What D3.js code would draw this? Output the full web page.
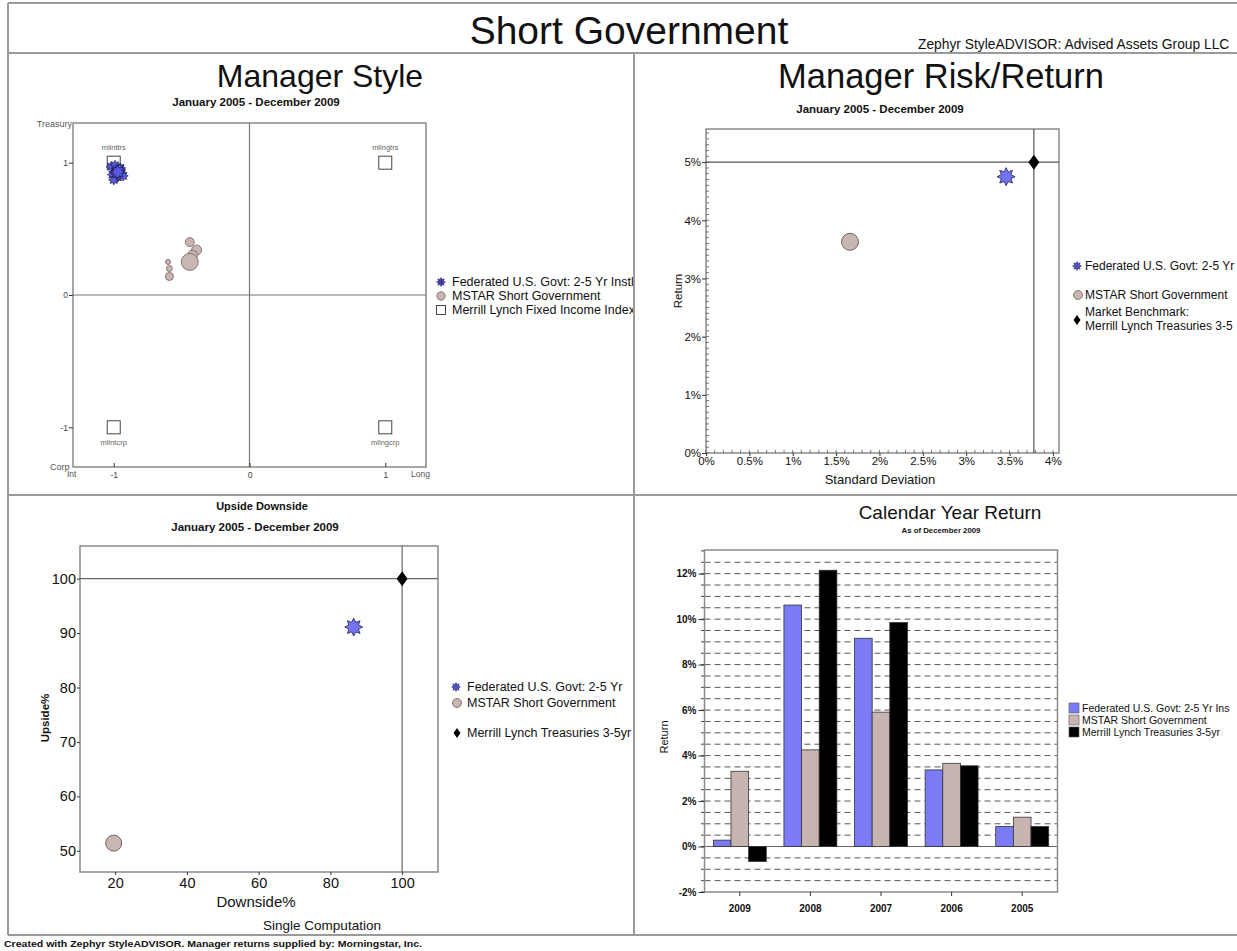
<!DOCTYPE html>
<html><head><meta charset="utf-8">
<script src="https://cdn.jsdelivr.net/npm/d3@7"></script>
<style>
body{margin:0;background:#fff;}
svg{display:block;font-family:"Liberation Sans",Arial,sans-serif;}
</style>
</head><body>
<svg id="c" width="1237" height="951"></svg>
<script>
// ---------------- DATA ----------------
const seriesNames = ["Federated U.S. Govt: 2-5 Yr Instl", "MSTAR Short Government", "Merrill Lynch Treasuries 3-5yr"];
// Manager Style (rolling windows)
const styleFedX = [-1.02, -0.99, -0.95, -0.98, -0.94, -1.01, -0.97, -0.93, -1.00, -0.96, -0.98, -0.97];
const styleFedY = [0.97, 0.98, 0.96, 0.94, 0.92, 0.91, 0.89, 0.90, 0.87, 0.95, 0.92, 0.93];
const styleFedR = [5, 5, 5, 5, 5, 5, 5, 5, 5, 6, 6, 7];
const styleMstarX = [-0.60, -0.59, -0.59, -0.44, -0.39, -0.42, -0.44];
const styleMstarY = [0.25, 0.20, 0.14, 0.40, 0.34, 0.30, 0.25];
const styleMstarR = [2.5, 3, 4, 4.5, 5, 5, 8.5];
const styleIndexNames = ["mlinttrs", "mllngtrs", "mlintcrp", "mllngcrp"];
const styleIndexX = [-1, 1, -1, 1];
const styleIndexY = [1, 1, -1, -1];
const styleTicks = [-1, 0, 1];
const styleLegend = ["Federated U.S. Govt: 2-5 Yr Instl", "MSTAR Short Government", "Merrill Lynch Fixed Income Indexes"];
// Risk / Return
const rrStdDev = [3.46, 1.66, 3.78];
const rrReturn = [4.75, 3.63, 5.00];
const rrXTicks = [0, 0.5, 1, 1.5, 2, 2.5, 3, 3.5, 4];
const rrYTicks = [0, 1, 2, 3, 4, 5];
const rrLegend = ["Federated U.S. Govt: 2-5 Yr", "MSTAR Short Government", "Market Benchmark:", "Merrill Lynch Treasuries 3-5"];
// Upside / Downside
const udDownside = [86.5, 19.6, 100];
const udUpside = [91.1, 51.4, 100];
const udXTicks = [20, 40, 60, 80, 100];
const udYTicks = [50, 60, 70, 80, 90, 100];
const udLegend = ["Federated U.S. Govt: 2-5 Yr", "MSTAR Short Government", "Merrill Lynch Treasuries 3-5yr"];
// Calendar Year Return
const calYears = ["2009", "2008", "2007", "2006", "2005"];
const calFed = [0.28, 10.62, 9.16, 3.37, 0.88];
const calMstar = [3.31, 4.25, 5.91, 3.66, 1.29];
const calML = [-0.66, 12.15, 9.85, 3.55, 0.88];
const calYTicks = [-2, 0, 2, 4, 6, 8, 10, 12];
const calLegend = ["Federated U.S. Govt: 2-5 Yr Ins", "MSTAR Short Government", "Merrill Lynch Treasuries 3-5yr"];

// ---------------- HELPERS ----------------
const svg = d3.select("#c");
const FED_FILL = "#7474f2", FED_STROKE = "#22225a";
const MST_FILL = "#c9b5b2", MST_STROKE = "#6e6262";
const FRAME = "#9a9a9a";

function starPath(r) {
  const pts = [], n = 8, inner = r * 0.58;
  for (let i = 0; i < 2 * n; i++) {
    const a = Math.PI * i / n - Math.PI / 2;
    const rr = i % 2 ? inner : r;
    pts.push([(rr * Math.cos(a)).toFixed(2), (rr * Math.sin(a)).toFixed(2)]);
  }
  return "M" + pts.map(p => p.join(",")).join("L") + "Z";
}
function diamondPath(h, w) { return `M0,${-h}L${w},0L0,${h}L${-w},0Z`; }
function txt(g, x, y, s, opt = {}) {
  const t = g.append("text").attr("x", x).attr("y", y).text(s)
    .attr("font-size", opt.size || 11).attr("fill", opt.fill || "#111")
    .attr("text-anchor", opt.anchor || "start");
  if (opt.weight) t.attr("font-weight", opt.weight);
  if (opt.len) t.attr("textLength", opt.len).attr("lengthAdjust", "spacingAndGlyphs");
  if (opt.rotate) t.attr("transform", `rotate(${opt.rotate},${x},${y})`);
  return t;
}
function styleAxis(g, size, weight) {
  g.select(".domain").remove();
  g.selectAll(".tick line").attr("stroke", "#333");
  g.selectAll(".tick text").attr("font-size", size).attr("fill", "#111")
    .attr("font-family", '"Liberation Sans",Arial,sans-serif');
  if (weight) g.selectAll(".tick text").attr("font-weight", weight);
}

// clip paths for panels
const defs = svg.append("defs");
const panels = {
  tl: [9, 54, 624, 440], tr: [635, 54, 602, 440],
  bl: [9, 496, 624, 438], br: [635, 496, 602, 438]
};
Object.entries(panels).forEach(([k, r]) => {
  defs.append("clipPath").attr("id", "clip-" + k).append("rect")
    .attr("x", r[0]).attr("y", r[1]).attr("width", r[2]).attr("height", r[3]);
});

// ---------------- FRAME ----------------
const fr = svg.append("g").attr("stroke", FRAME).attr("stroke-width", 2);
fr.append("line").attr("x1", 8).attr("y1", 3).attr("x2", 1237).attr("y2", 3);
fr.append("line").attr("x1", 8).attr("y1", 3).attr("x2", 8).attr("y2", 935);
fr.append("line").attr("x1", 8).attr("y1", 53).attr("x2", 1237).attr("y2", 53);
fr.append("line").attr("x1", 8).attr("y1", 495).attr("x2", 1237).attr("y2", 495);
fr.append("line").attr("x1", 634).attr("y1", 53).attr("x2", 634).attr("y2", 935);
fr.append("line").attr("x1", 8).attr("y1", 935).attr("x2", 1237).attr("y2", 935);

// header
txt(svg, 629, 44, "Short Government", { size: 39, anchor: "middle" });
txt(svg, 918, 49, "Zephyr StyleADVISOR: Advised Assets Group LLC", { size: 13.8 });
txt(svg, 4, 947, "Created with Zephyr StyleADVISOR. Manager returns supplied by: Morningstar, Inc.", { size: 9, weight: "bold", len: 418 });

// ---------------- MANAGER STYLE ----------------
{
  const g = svg.append("g").attr("clip-path", "url(#clip-tl)");
  txt(g, 320, 87, "Manager Style", { size: 32, anchor: "middle" });
  txt(g, 256, 106, "January 2005 - December 2009", { size: 11.5, anchor: "middle", weight: "bold" });
  const x = d3.scaleLinear().domain([-1.3, 1.3]).range([73, 426]);
  const y = d3.scaleLinear().domain([-1.3, 1.3]).range([467, 123]);
  g.append("rect").attr("x", 73).attr("y", 123).attr("width", 353).attr("height", 344)
    .attr("fill", "none").attr("stroke", "#8a8a8a").attr("stroke-width", 1.5);
  g.append("line").attr("x1", x(0)).attr("x2", x(0)).attr("y1", 123).attr("y2", 467).attr("stroke", "#777").attr("stroke-width", 1.2);
  g.append("line").attr("x1", 73).attr("x2", 426).attr("y1", y(0)).attr("y2", y(0)).attr("stroke", "#777").attr("stroke-width", 1.2);
  const ay = g.append("g").attr("transform", "translate(73,0)").call(d3.axisLeft(y).tickValues(styleTicks).tickSize(4).tickPadding(1).tickFormat(d => String(d)));
  styleAxis(ay, 8.5);
  ay.selectAll(".tick text").attr("fill", "#444");
  const ax = g.append("g").attr("transform", "translate(0,467)").call(d3.axisTop(x).tickValues(styleTicks).tickSize(4).tickFormat(d => String(d)));
  styleAxis(ax, 8.5);
  ax.selectAll(".tick text").attr("y", 11).attr("fill", "#444");
  txt(g, 72, 127, "Treasury", { size: 9, anchor: "end", fill: "#555" });
  txt(g, 50, 470, "Corp", { size: 9, fill: "#555" });
  txt(g, 67, 477, "Int", { size: 8.5, fill: "#555" });
  txt(g, 411, 477, "Long", { size: 8.5, fill: "#555" });
  // index squares
  const idx = styleIndexNames.map((n, i) => ({ n, x: styleIndexX[i], y: styleIndexY[i] }));
  g.selectAll("rect.idx").data(idx).join("rect").attr("class", "idx")
    .attr("x", d => x(d.x) - 6.5).attr("y", d => y(d.y) - 6.5).attr("width", 13).attr("height", 13)
    .attr("fill", "#fff").attr("stroke", "#444").attr("stroke-width", 1);
  g.selectAll("text.idx").data(idx).join("text").attr("class", "idx")
    .attr("x", d => x(d.x)).attr("y", d => d.y > 0 ? y(d.y) - 13 : y(d.y) + 18)
    .attr("text-anchor", "middle").attr("font-size", 7.5).attr("fill", "#666").text(d => d.n);
  // MSTAR circles
  const ms = styleMstarX.map((v, i) => ({ x: v, y: styleMstarY[i], r: styleMstarR[i] }));
  g.selectAll("circle.ms").data(ms).join("circle").attr("class", "ms")
    .attr("cx", d => x(d.x)).attr("cy", d => y(d.y)).attr("r", d => d.r)
    .attr("fill", MST_FILL).attr("stroke", MST_STROKE).attr("stroke-width", 0.8);
  // Fed stars
  const fd = styleFedX.map((v, i) => ({ x: v, y: styleFedY[i], r: styleFedR[i] }));
  g.selectAll("path.fd").data(fd).join("path").attr("class", "fd")
    .attr("transform", d => `translate(${x(d.x)},${y(d.y)})`).attr("d", d => starPath(d.r))
    .attr("fill", "#5a5ae0").attr("stroke", "#1a1a48").attr("stroke-width", 0.7);
  // legend
  const ly = [282, 296, 310];
  g.append("path").attr("transform", `translate(441,${ly[0]})`).attr("d", starPath(4.5)).attr("fill", "#3c3ca8").attr("stroke", "#20205a").attr("stroke-width", 0.5);
  g.append("circle").attr("cx", 441).attr("cy", ly[1]).attr("r", 4.2).attr("fill", MST_FILL).attr("stroke", MST_STROKE).attr("stroke-width", 0.8);
  g.append("rect").attr("x", 436.5).attr("y", ly[2] - 4.5).attr("width", 9).attr("height", 9).attr("fill", "#fff").attr("stroke", "#444");
  styleLegend.forEach((s, i) => txt(g, 452, ly[i] + 4, s, { size: 12.5 }));
}

// ---------------- MANAGER RISK/RETURN ----------------
{
  const g = svg.append("g").attr("clip-path", "url(#clip-tr)");
  txt(g, 941, 88, "Manager Risk/Return", { size: 34.5, anchor: "middle" });
  txt(g, 880, 113, "January 2005 - December 2009", { size: 11.5, anchor: "middle", weight: "bold" });
  const x = d3.scaleLinear().domain([0, 4.07]).range([706, 1059]);
  const y = d3.scaleLinear().domain([0, 5.57]).range([453, 129]);
  g.append("rect").attr("x", 706).attr("y", 129).attr("width", 353).attr("height", 324)
    .attr("fill", "none").attr("stroke", "#8a8a8a").attr("stroke-width", 1.5);
  const minY = d3.range(0, 5.56, 0.1), minX = d3.range(0, 4.06, 0.1);
  g.selectAll("line.my").data(minY).join("line").attr("class", "my")
    .attr("x1", 706).attr("x2", 709).attr("y1", d => y(d)).attr("y2", d => y(d)).attr("stroke", "#555").attr("stroke-width", 0.8);
  g.selectAll("line.mx").data(minX).join("line").attr("class", "mx")
    .attr("y1", 453).attr("y2", 450).attr("x1", d => x(d)).attr("x2", d => x(d)).attr("stroke", "#555").attr("stroke-width", 0.8);
  const ay = g.append("g").attr("transform", "translate(706,0)").call(d3.axisLeft(y).tickValues(rrYTicks).tickSize(4).tickPadding(1).tickFormat(d => d + "%"));
  styleAxis(ay, 11.5);
  const ax = g.append("g").attr("transform", "translate(0,453)").call(d3.axisBottom(x).tickValues(rrXTicks).tickSize(3).tickPadding(1).tickFormat(d => d + "%"));
  styleAxis(ax, 11.5);
  txt(g, 682, 291, "Return", { size: 11.5, anchor: "middle", rotate: -90 });
  txt(g, 880, 484, "Standard Deviation", { size: 13, anchor: "middle" });
  g.append("line").attr("x1", 706).attr("x2", 1059).attr("y1", y(rrReturn[2])).attr("y2", y(rrReturn[2])).attr("stroke", "#555").attr("stroke-width", 1.2);
  g.append("line").attr("x1", x(rrStdDev[2])).attr("x2", x(rrStdDev[2])).attr("y1", 129).attr("y2", 453).attr("stroke", "#555").attr("stroke-width", 1.2);
  g.append("circle").attr("cx", x(rrStdDev[1])).attr("cy", y(rrReturn[1])).attr("r", 8.5)
    .attr("fill", MST_FILL).attr("stroke", MST_STROKE).attr("stroke-width", 1);
  g.append("path").attr("transform", `translate(${x(rrStdDev[0])},${y(rrReturn[0])})`).attr("d", starPath(9))
    .attr("fill", FED_FILL).attr("stroke", FED_STROKE).attr("stroke-width", 0.8);
  g.append("path").attr("transform", `translate(${x(rrStdDev[2])},${y(rrReturn[2])})`).attr("d", diamondPath(7.5, 5.5)).attr("fill", "#000");
  // legend
  g.append("path").attr("transform", "translate(1077,266)").attr("d", starPath(4.5)).attr("fill", "#5050c8").attr("stroke", "#22225a").attr("stroke-width", 0.5);
  txt(g, 1085, 270, rrLegend[0], { size: 12 });
  g.append("circle").attr("cx", 1078).attr("cy", 295).attr("r", 4.5).attr("fill", MST_FILL).attr("stroke", MST_STROKE).attr("stroke-width", 0.8);
  txt(g, 1085, 299, rrLegend[1], { size: 12 });
  g.append("path").attr("transform", "translate(1077,320)").attr("d", diamondPath(5, 3.5)).attr("fill", "#000");
  txt(g, 1085, 316, rrLegend[2], { size: 12 });
  txt(g, 1085, 330, rrLegend[3], { size: 12 });
}

// ---------------- UPSIDE DOWNSIDE ----------------
{
  const g = svg.append("g").attr("clip-path", "url(#clip-bl)");
  txt(g, 262, 510, "Upside Downside", { size: 11, anchor: "middle", weight: "bold" });
  txt(g, 255, 531, "January 2005 - December 2009", { size: 11.5, anchor: "middle", weight: "bold" });
  const x = d3.scaleLinear().domain([10.2, 110]).range([80, 438]);
  const y = d3.scaleLinear().domain([46.1, 106]).range([872, 546]);
  g.append("rect").attr("x", 80).attr("y", 546).attr("width", 358).attr("height", 326)
    .attr("fill", "none").attr("stroke", "#8a8a8a").attr("stroke-width", 1.5);
  const ay = g.append("g").attr("transform", "translate(80,0)").call(d3.axisLeft(y).tickValues(udYTicks).tickSize(3).tickPadding(1));
  styleAxis(ay, 14.5);
  const ax = g.append("g").attr("transform", "translate(0,872)").call(d3.axisBottom(x).tickValues(udXTicks).tickSize(3).tickPadding(3));
  styleAxis(ax, 14.5);
  txt(g, 49, 718, "Upside%", { size: 11.5, anchor: "middle", rotate: -90, weight: "bold" });
  txt(g, 256, 907, "Downside%", { size: 15, anchor: "middle" });
  txt(g, 322, 930, "Single Computation", { size: 13.5, anchor: "middle" });
  g.append("line").attr("x1", 80).attr("x2", 438).attr("y1", y(udUpside[2])).attr("y2", y(udUpside[2])).attr("stroke", "#666").attr("stroke-width", 1.2);
  g.append("line").attr("x1", x(udDownside[2])).attr("x2", x(udDownside[2])).attr("y1", 546).attr("y2", 872).attr("stroke", "#666").attr("stroke-width", 1.2);
  g.append("circle").attr("cx", x(udDownside[1])).attr("cy", y(udUpside[1])).attr("r", 8)
    .attr("fill", MST_FILL).attr("stroke", MST_STROKE).attr("stroke-width", 1);
  g.append("path").attr("transform", `translate(${x(udDownside[0])},${y(udUpside[0])})`).attr("d", starPath(9))
    .attr("fill", FED_FILL).attr("stroke", FED_STROKE).attr("stroke-width", 0.8);
  g.append("path").attr("transform", `translate(${x(udDownside[2])},${y(udUpside[2])})`).attr("d", diamondPath(7.5, 5.5)).attr("fill", "#000");
  // legend
  g.append("path").attr("transform", "translate(456,687)").attr("d", starPath(4.5)).attr("fill", "#5050c8").attr("stroke", "#22225a").attr("stroke-width", 0.5);
  txt(g, 467, 691, udLegend[0], { size: 12.5 });
  g.append("circle").attr("cx", 457).attr("cy", 703).attr("r", 4.5).attr("fill", MST_FILL).attr("stroke", MST_STROKE).attr("stroke-width", 0.8);
  txt(g, 467, 707, udLegend[1], { size: 12.5 });
  g.append("path").attr("transform", "translate(457,733)").attr("d", diamondPath(5, 3.5)).attr("fill", "#000");
  txt(g, 467, 737, udLegend[2], { size: 12.5 });
}

// ---------------- CALENDAR YEAR RETURN ----------------
{
  const g = svg.append("g").attr("clip-path", "url(#clip-br)");
  txt(g, 950, 519, "Calendar Year Return", { size: 19, anchor: "middle" });
  txt(g, 941, 533, "As of December 2009", { size: 7.8, anchor: "middle", weight: "bold" });
  const x0 = d3.scaleBand().domain(calYears).range([704.5, 1057.5]).paddingInner(0.25).paddingOuter(0.125);
  const keys = ["fed", "mstar", "ml"];
  const x1 = d3.scaleBand().domain(keys).range([0, x0.bandwidth()]);
  const y = d3.scaleLinear().domain([-2, 13.04]).range([892, 550]);
  const color = { fed: "#7b7bf6", mstar: "#c8b5b2", ml: "#000" };
  const grid = d3.range(-1.5, 12.51, 0.5).filter(v => Math.abs(v) > 1e-9);
  g.selectAll("line.grid").data(grid).join("line").attr("class", "grid")
    .attr("x1", 704.5).attr("x2", 1057.5).attr("y1", d => y(d)).attr("y2", d => y(d))
    .attr("stroke", "#444").attr("stroke-width", 0.9).attr("stroke-dasharray", "6,4");
  const minors = d3.range(-2, 13.01, 0.5);
  g.selectAll("line.mt").data(minors).join("line").attr("class", "mt")
    .attr("x1", 701).attr("x2", 704.5).attr("y1", d => y(d)).attr("y2", d => y(d)).attr("stroke", "#444");
  g.append("line").attr("x1", 704.5).attr("x2", 1057.5).attr("y1", y(0)).attr("y2", y(0)).attr("stroke", "#666").attr("stroke-width", 1.2);
  const rows = calYears.map((yr, i) => ({ yr, fed: calFed[i], mstar: calMstar[i], ml: calML[i] }));
  g.append("g").selectAll("g").data(rows).join("g")
    .attr("transform", d => `translate(${x0(d.yr)},0)`)
    .selectAll("rect").data(d => keys.map(k => ({ k, v: d[k] }))).join("rect")
    .attr("x", d => x1(d.k)).attr("width", x1.bandwidth())
    .attr("y", d => y(Math.max(0, d.v))).attr("height", d => Math.abs(y(d.v) - y(0)))
    .attr("fill", d => color[d.k]).attr("stroke", "#333").attr("stroke-width", 0.8);
  g.append("rect").attr("x", 704.5).attr("y", 550).attr("width", 353).attr("height", 342)
    .attr("fill", "none").attr("stroke", "#8a8a8a").attr("stroke-width", 1.5);
  const ay = g.append("g").attr("transform", "translate(704.5,0)").call(d3.axisLeft(y).tickValues(calYTicks).tickSize(6).tickPadding(2).tickFormat(d => d + "%"));
  styleAxis(ay, 10, "bold");
  const ax = g.append("g").attr("transform", "translate(0,892)").call(d3.axisBottom(x0).tickSize(4).tickPadding(9));
  styleAxis(ax, 10, "bold");
  txt(g, 668, 737, "Return", { size: 11, anchor: "middle", rotate: -90 });
  const ly = [708, 720, 732];
  keys.forEach((k, i) => {
    g.append("rect").attr("x", 1069).attr("y", ly[i] - 5).attr("width", 10).attr("height", 10)
      .attr("fill", color[k]).attr("stroke", "#555").attr("stroke-width", 0.6);
    txt(g, 1082, ly[i] + 4, calLegend[i], { size: 10.5 });
  });
}
</script>
</body></html>
